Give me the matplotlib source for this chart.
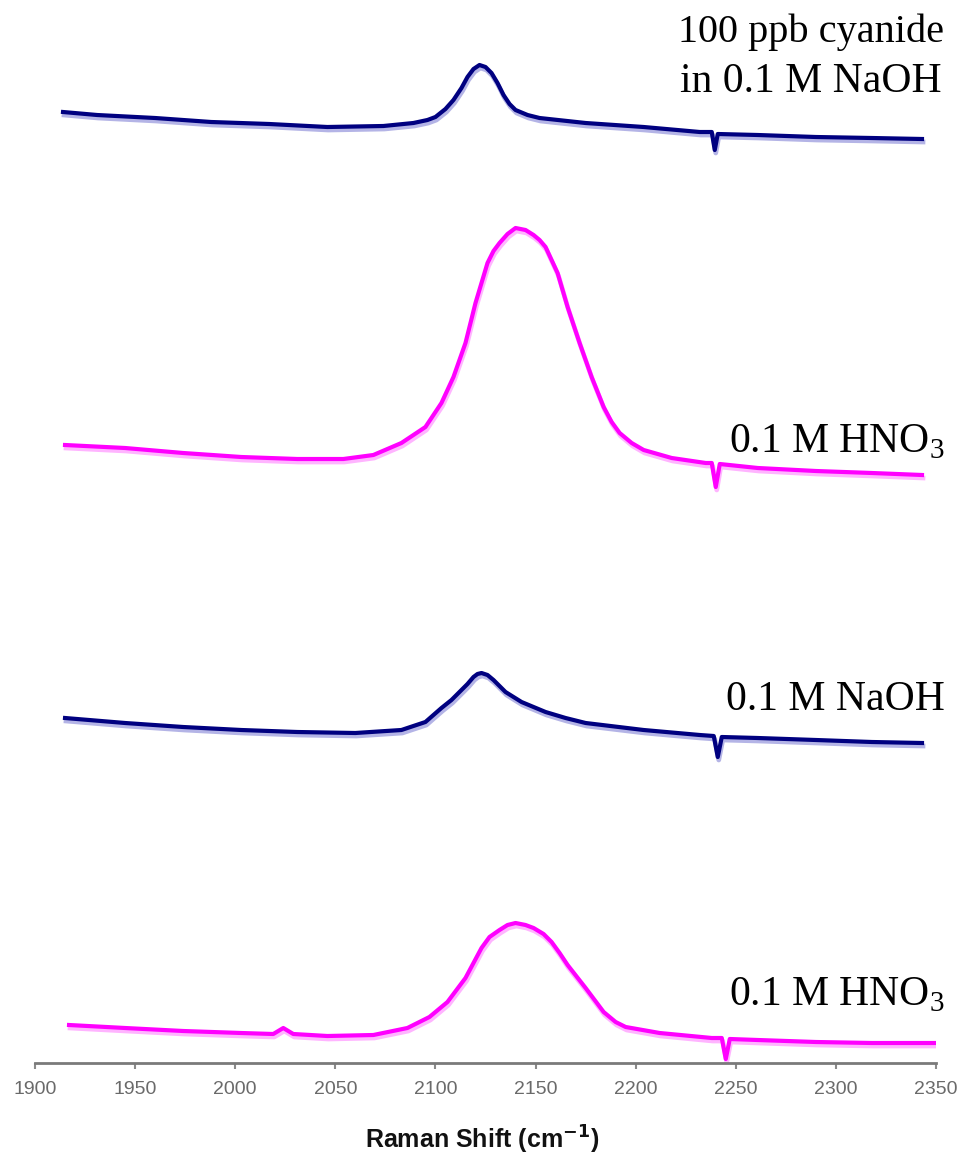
import matplotlib
matplotlib.use("Agg")
import matplotlib.pyplot as plt
import matplotlib.transforms as mtransforms

plt.rcParams["mathtext.fontset"] = "custom"
plt.rcParams["mathtext.rm"] = "Liberation Serif"

# Raman spectra (shift in cm^-1, intensity in arbitrary units above each trace's baseline)
shift_cn_naoh = [1914, 1931, 1960, 1988, 2017, 2046, 2074, 2089, 2096, 2100, 2105, 2109,
                 2113, 2116, 2119, 2122, 2125, 2128, 2131, 2134, 2137, 2140, 2146, 2152,
                 2175, 2204, 2232, 2238, 2239.5, 2241, 2261, 2290, 2318, 2343]
int_cn_naoh = [71, 68, 65, 61, 59, 56, 57, 60, 63, 66, 74, 83,
               95, 106, 114, 118, 116, 110, 100, 88, 79, 73, 68, 65,
               60, 56, 51, 51, 33, 49, 48, 46, 45, 44]

shift_hno3_a = [1915, 1945, 1974, 2003, 2031, 2054, 2069, 2083, 2095, 2103, 2109, 2115,
                2120, 2126, 2129, 2132, 2136, 2140, 2145, 2149, 2152, 2155, 2161, 2166,
                2172, 2178, 2184, 2188, 2192, 2198, 2204, 2218, 2235, 2238, 2240, 2242,
                2261, 2290, 2318, 2343]
int_hno3_a = [65, 62, 57, 53, 51, 51, 55, 67, 83, 107, 133, 167,
              207, 247, 259, 267, 276, 282, 280, 275, 270, 263, 237, 203,
              167, 133, 103, 88, 77, 67, 60, 52, 47, 47, 23, 46,
              42, 39, 37, 35]

shift_naoh = [1915, 1945, 1974, 2003, 2031, 2060, 2083, 2095, 2103, 2108, 2112, 2116,
              2119, 2121, 2123, 2126, 2129, 2132, 2135, 2139, 2143, 2149, 2155, 2165,
              2175, 2204, 2232, 2239, 2241, 2243, 2261, 2290, 2318, 2343]
int_naoh = [69, 64, 60, 57, 55, 54, 57, 65, 79, 87, 95, 103,
            110, 113, 114, 112, 107, 101, 95, 90, 85, 80, 75, 69,
            64, 57, 52, 51, 30, 50, 49, 47, 45, 44]

shift_hno3_b = [1917, 1945, 1974, 2003, 2019, 2024, 2029, 2046, 2069, 2086, 2097, 2106,
                2115, 2119, 2123, 2127, 2132, 2136, 2140, 2145, 2149, 2154, 2158, 2162,
                2166, 2175, 2184, 2190, 2195, 2212, 2238, 2243, 2245, 2247, 2261, 2290,
                2318, 2350]
int_hno3_b = [38, 35, 32, 30, 29, 35, 29, 27, 28, 35, 46, 61,
              85, 100, 115, 126, 133, 138, 140, 138, 135, 129, 121, 110,
              98, 75, 51, 41, 36, 30, 25, 25, 4, 24, 23, 21,
              20, 20]

trace_labels = ["100 ppb cyanide\nin 0.1 M NaOH", "0.1 M HNO$_3$", "0.1 M NaOH", "0.1 M HNO$_3$"]
x_ticks = [1900, 1950, 2000, 2050, 2100, 2150, 2200, 2250, 2300, 2350]
x_ticklabels = ["1900", "1950", "2000", "2050", "2100", "2150", "2200", "2250", "2300", "2350"]

NAVY = "#000080"
MAGENTA = "#ff00ff"
traces = [
    (shift_cn_naoh, int_cn_naoh, 880, NAVY, "#b4b4e6"),
    (shift_hno3_a, int_hno3_a, 553, MAGENTA, "#ffb4ff"),
    (shift_naoh, int_naoh, 276, NAVY, "#b4b4e6"),
    (shift_hno3_b, int_hno3_b, 0, MAGENTA, "#ffb4ff"),
]

fig = plt.figure(figsize=(9.6, 11.6), dpi=100)
ax = fig.add_axes([35 / 960, 97 / 1160, 901 / 960, 1063 / 1160])
ax.set_xlim(1900, 2350)
ax.set_ylim(0, 1063)

shadow = mtransforms.offset_copy(ax.transData, fig=fig, x=1, y=-3, units="dots")
for xs, ys, off, col, light in traces:
    yy = [v + off for v in ys]
    ax.plot(xs, yy, color=light, lw=3.4, transform=shadow, solid_joinstyle="round", zorder=2)
    ax.plot(xs, yy, color=col, lw=3.0, solid_joinstyle="round", zorder=3)

serif = "Liberation Serif"
fig.text(678 / 960, 1 - 42 / 1160, "100 ppb cyanide", family=serif, fontsize=29,
         ha="left", va="baseline")
fig.text(942 / 960, 1 - 92 / 1160, "in 0.1 M NaOH", family=serif, fontsize=30,
         ha="right", va="baseline")
fig.text(945 / 960, 1 - 452 / 1160, trace_labels[1], family=serif, fontsize=30,
         ha="right", va="baseline")
fig.text(945 / 960, 1 - 710 / 1160, trace_labels[2], family=serif, fontsize=30,
         ha="right", va="baseline")
fig.text(945 / 960, 1 - 1005 / 1160, trace_labels[3], family=serif, fontsize=30,
         ha="right", va="baseline")

for side in ["top", "left", "right"]:
    ax.spines[side].set_visible(False)
ax.spines["bottom"].set_color("#7a7a7a")
ax.spines["bottom"].set_linewidth(2.0)
ax.set_yticks([])
ax.set_xticks(x_ticks)
ax.set_xticklabels(x_ticklabels, family="Liberation Sans", fontsize=14, color="#6a6a6a")
ax.tick_params(axis="x", direction="out", length=4, width=1.5, color="#8a8a8a", pad=9)
ax.patch.set_alpha(0)

fig.text(482 / 960, 1 - 1140 / 1160, "Raman Shift (cm$^{\\mathbf{-1}}$)", family="Liberation Sans",
         fontsize=18, fontweight="bold", ha="center", va="center", color="#111111")

fig.savefig("out.png", dpi=100, facecolor="white")
